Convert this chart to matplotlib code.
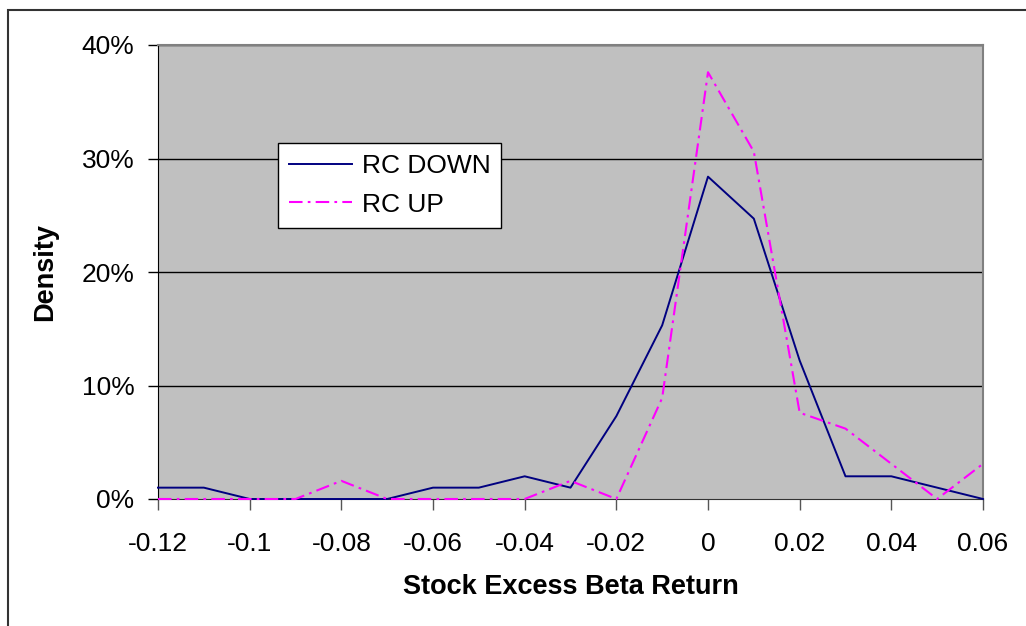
import matplotlib
matplotlib.use("Agg")
import matplotlib.pyplot as plt
from matplotlib.patches import Rectangle
from matplotlib.ticker import FuncFormatter

plt.rcParams['font.family'] = ['Liberation Sans', 'DejaVu Sans']

# excess beta return bins
returns = [-0.12, -0.11, -0.10, -0.09, -0.08, -0.07, -0.06, -0.05, -0.04, -0.03,
           -0.02, -0.01, 0.00, 0.01, 0.02, 0.03, 0.04, 0.05, 0.06]

rc_down = [0.010, 0.010, 0.000, 0.000, 0.000, 0.000, 0.010, 0.010, 0.020, 0.010,
           0.073, 0.153, 0.284, 0.247, 0.122, 0.020, 0.020, 0.010, 0.000]
rc_up = [0.000, 0.000, 0.000, 0.000, 0.016, 0.000, 0.000, 0.000, 0.000, 0.016,
         0.000, 0.089, 0.376, 0.306, 0.076, 0.062, 0.031, 0.000, 0.031]

x_ticks = [-0.12, -0.10, -0.08, -0.06, -0.04, -0.02, 0.0, 0.02, 0.04, 0.06]
x_tick_labels = ['-0.12', '-0.1', '-0.08', '-0.06', '-0.04', '-0.02', '0', '0.02', '0.04', '0.06']
y_ticks = [0.0, 0.1, 0.2, 0.3, 0.4]

W, H = 1026, 626
fig = plt.figure(figsize=(W / 100, H / 100), dpi=100)
ax = fig.add_axes([158 / W, 1 - 499 / H, 825 / W, 454 / H])
ax.set_facecolor('#C0C0C0')

# outer chart border (only top and left visible)
fig.patches.append(Rectangle((8 / W, -0.1), 1.2, (H - 10) / H + 0.1, transform=fig.transFigure,
                             fill=False, edgecolor='#333333', linewidth=1.5))

for y in y_ticks[1:]:
    ax.axhline(y, color='black', linewidth=1.0, zorder=1)

ax.plot(returns, rc_down, color='#000080', linewidth=1.4, label='RC DOWN',
        clip_on=False, zorder=3)
ax.plot(returns, rc_up, color='#FF00FF', linewidth=1.5, linestyle=(0, (6.5, 2.5, 1.3, 2.5)),
        label='RC UP', clip_on=False, zorder=4)

ax.set_xlim(-0.12, 0.06)
ax.set_ylim(0, 0.4)
ax.set_xticks(x_ticks)
ax.set_xticklabels(x_tick_labels)
ax.set_yticks(y_ticks)
ax.yaxis.set_major_formatter(FuncFormatter(lambda v, p: f'{v * 100:.0f}%'))

ax.tick_params(axis='x', direction='out', length=8, width=1, color='#555555',
               labelsize=19, pad=16)
ax.tick_params(axis='y', direction='out', length=7, width=1, color='black',
               labelsize=19, pad=10)

for side in ['top', 'right']:
    ax.spines[side].set_color('#808080')
    ax.spines[side].set_linewidth(1.5)
ax.spines['left'].set_color('black')
ax.spines['bottom'].set_color('#333333')

ax.set_xlabel('Stock Excess Beta Return', fontsize=19.5, fontweight='bold', labelpad=13)
ax.set_ylabel('Density', fontsize=19.5, fontweight='bold', labelpad=17)

leg = ax.legend(loc='upper left', bbox_to_anchor=(120 / 825, (499 - 143) / 454),
                borderaxespad=0, fontsize=19, frameon=True, fancybox=False,
                edgecolor='black', framealpha=1, handlelength=2.4,
                handletextpad=0.35, labelspacing=0.55, borderpad=0.42)
leg.get_frame().set_linewidth(1.0)

fig.savefig('out.png', dpi=100)
